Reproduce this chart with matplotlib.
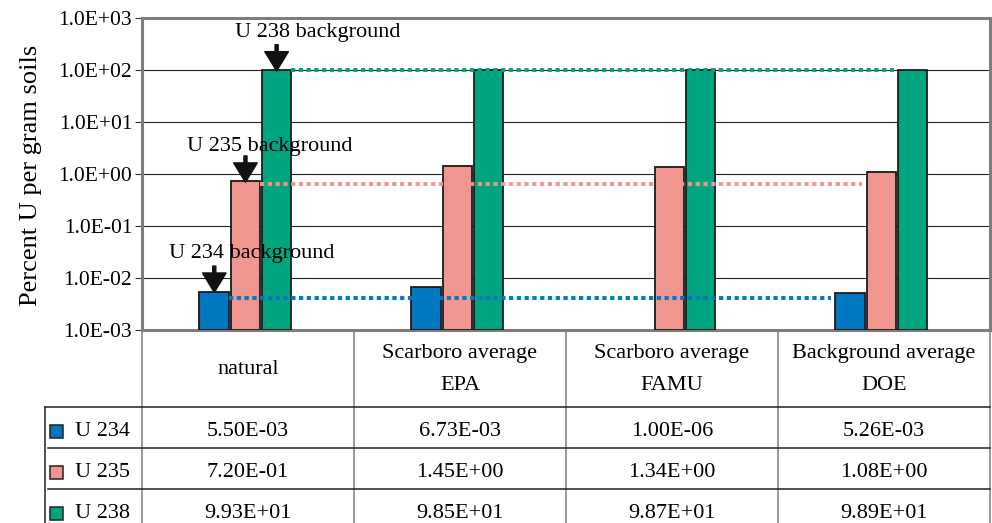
import matplotlib
matplotlib.use("Agg")
import matplotlib.pyplot as plt
from matplotlib.patches import Rectangle
from matplotlib.ticker import FixedLocator, FuncFormatter, NullLocator

plt.rcParams["font.family"] = ["Liberation Serif", "DejaVu Serif"]

# data
categories = ["natural", "Scarboro average\nEPA", "Scarboro average\nFAMU", "Background average\nDOE"]
isotopes = ["U 234", "U 235", "U 238"]
u234 = [5.50e-3, 6.73e-3, 1.00e-6, 5.26e-3]
u235 = [7.20e-1, 1.45e+00, 1.34e+00, 1.08e+00]
u238 = [9.93e+01, 9.85e+01, 9.87e+01, 9.89e+01]
background = [4.1e-3, 6.3e-1, 9.93e+01]
colors = ["#0077c0", "#f0968f", "#00a47e"]
y_ticks = [1e-3, 1e-2, 1e-1, 1e0, 1e1, 1e2, 1e3]

W, H = 992, 523
fig = plt.figure(figsize=(W / 100, H / 100), dpi=100)
ax_l, ax_r, ax_t, ax_b = 142, 990, 18, 330
ax = fig.add_axes([ax_l / W, 1 - ax_b / H, (ax_r - ax_l) / W, (ax_b - ax_t) / H])

frame = "#7d7d7d"
step, width, shift = 0.147, 0.14, -0.012
series = [u234, u235, u238]
ymin = y_ticks[0]
xs = range(len(categories))
bar_x = []
for k, (vals, col) in enumerate(zip(series, colors)):
    pos = [i + shift + (k - 1) * step for i in xs]
    bar_x.append(pos)
    # bars below the axis floor are hidden, edge included
    lws = [1.3 if v > ymin else 0 for v in vals]
    ax.bar(pos, [v - ymin for v in vals], bottom=ymin, width=width, color=col,
           edgecolor="#1a1a1a", linewidth=lws, zorder=3)

ax.set_yscale("log")
ax.set_ylim(y_ticks[0], y_ticks[-1])
ax.set_xlim(-0.5, len(categories) - 0.5)
ax.yaxis.set_major_locator(FixedLocator(y_ticks))
ax.yaxis.set_minor_locator(NullLocator())
ax.yaxis.set_major_formatter(FuncFormatter(lambda v, p: f"{v:.1E}"))
ax.set_xticks([])
ax.tick_params(axis="y", labelsize=15.5, length=5, width=0.8, pad=2, color="#333333")
ax.grid(axis="y", color="#222222", linewidth=0.8, zorder=1)
for s in ax.spines.values():
    s.set_color(frame)
    s.set_linewidth(2.2)

# background reference lines: from natural bar to the DOE bar
for k, (lvl, col) in enumerate(zip(background, colors)):
    x0 = bar_x[k][0] + width / 2
    x1 = bar_x[k][-1] - width / 2 - 0.02
    ax.hlines(lvl, x0, x1, colors=col, linewidth=2.8, linestyles=(0, (1.1, 0.9)), zorder=4)

# background arrows and labels
label_offsets = [(26.6, 27.7), (17.6, 25.2), (29.5, 27.4)]
for k, name in enumerate(isotopes):
    xt, yt = bar_x[k][0], series[k][0]
    ax.annotate("", xy=(xt, yt * 0.96), xytext=(0, 19), textcoords="offset points",
                arrowprops=dict(facecolor="#111111", edgecolor="#111111", width=2.2,
                                headwidth=17, headlength=14, shrink=0), zorder=6)
    ax.annotate(f"{name} background", xy=(xt, yt), xytext=label_offsets[k],
                textcoords="offset points", ha="center", va="center", fontsize=16, zorder=7)

fig.text(31 / W, 1 - 175 / H, "Percent U per gram soils", rotation=90, ha="center",
         va="center", fontsize=19)

# data table under the plot (y in pixels below the plot)
tab = fig.add_axes([ax_l / W, 0, (ax_r - ax_l) / W, (H - ax_b) / H])
tab.set_xlim(-0.5, len(categories) - 0.5)
tab.set_ylim(H - ax_b, 0)
tab.axis("off")
px = (ax_r - ax_l) / len(categories)


def to_x(p):
    return (p - ax_l) / px - 0.5


head_h, row_h = 77, 41
for i in range(len(categories) + 1):
    tab.plot([i - 0.5, i - 0.5], [0, H - ax_b], color=frame, lw=1.1, clip_on=False)
tab.plot([to_x(45), to_x(45)], [head_h, H - ax_b], color="#222222", lw=1.1, clip_on=False)
tab.plot([to_x(45), len(categories) - 0.5], [head_h, head_h], color="#222222", lw=1.1, clip_on=False)
for r in (1, 2):
    y = head_h + r * row_h
    tab.plot([to_x(48), len(categories) - 0.5], [y, y], color="#222222", lw=1.1, clip_on=False)

for i, c in enumerate(categories):
    parts = c.split("\n")
    line_gap = 32
    y0 = head_h / 2 + 1 - line_gap * (len(parts) - 1) / 2
    for j, part in enumerate(parts):
        tab.text(i, y0 + j * line_gap, part, ha="center", va="center", fontsize=16)

for r, (name, vals, col) in enumerate(zip(isotopes, series, colors)):
    yc = head_h + r * row_h + row_h / 2 + 4
    tab.add_patch(Rectangle((to_x(50), yc - 7), to_x(63) - to_x(50), 13, facecolor=col,
                            edgecolor="#222222", lw=1.1, clip_on=False))
    tab.text(to_x(75), yc, name, ha="left", va="center", fontsize=16)
    for i, v in enumerate(vals):
        tab.text(i, yc, f"{v:.2E}", ha="center", va="center", fontsize=16)

fig.savefig("out.png", dpi=100)
